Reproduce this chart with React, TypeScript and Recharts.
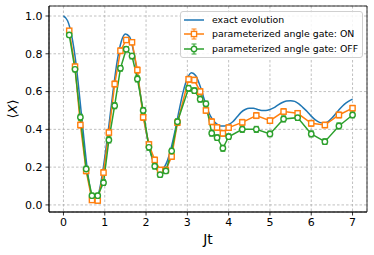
import React from 'react';
import { LineChart, Line, XAxis, YAxis, CartesianGrid, ErrorBar, ReferenceArea } from 'recharts';

const tExact = [0,0.1,0.2,0.3,0.4,0.5,0.6,0.7,0.8,0.9,1.0,1.1,1.2,1.3,1.4,1.5,1.6,1.7,1.8,1.9,2.0,2.1,2.2,2.3,2.4,2.5,2.6,2.7,2.8,2.9,3.0,3.1,3.2,3.3,3.4,3.5,3.6,3.7,3.8,3.9,4.0,4.1,4.2,4.3,4.4,4.5,4.6,4.7,4.8,4.9,5.0,5.1,5.2,5.3,5.4,5.5,5.6,5.7,5.8,5.9,6.0,6.1,6.2,6.3,6.4,6.5,6.6,6.7,6.8,6.9,7.0];
const exactVals = [1.0,0.975,0.895,0.755,0.555,0.34,0.15,0.04,0.03,0.11,0.25,0.42,0.6,0.76,0.865,0.905,0.89,0.81,0.68,0.53,0.39,0.285,0.215,0.185,0.19,0.225,0.295,0.39,0.5,0.6,0.67,0.7,0.685,0.635,0.565,0.5,0.455,0.43,0.418,0.418,0.425,0.44,0.465,0.49,0.505,0.512,0.512,0.505,0.5,0.5,0.505,0.515,0.53,0.542,0.55,0.552,0.548,0.535,0.515,0.495,0.47,0.45,0.437,0.433,0.44,0.46,0.485,0.51,0.532,0.548,0.56];

const tGate = [0.14,0.28,0.41,0.55,0.69,0.83,0.97,1.10,1.24,1.38,1.52,1.66,1.79,1.93,2.07,2.21,2.34,2.48,2.62,2.76,3.03,3.17,3.31,3.45,3.59,3.72,3.86,4.00,4.33,4.67,5.00,5.33,5.67,6.00,6.33,6.67,7.00];
const onVals = [0.922,0.732,0.423,0.18,0.026,0.023,0.171,0.383,0.64,0.816,0.873,0.861,0.714,0.464,0.32,0.238,0.185,0.185,0.256,0.436,0.665,0.661,0.6,0.5,0.44,0.41,0.379,0.409,0.437,0.473,0.446,0.494,0.485,0.432,0.423,0.476,0.512];
const onErr = [0.012,0.014,0.016,0.015,0.013,0.014,0.016,0.017,0.016,0.015,0.013,0.014,0.016,0.017,0.016,0.015,0.014,0.014,0.015,0.016,0.016,0.015,0.016,0.015,0.016,0.015,0.016,0.015,0.016,0.016,0.015,0.016,0.015,0.016,0.015,0.016,0.015];
const offVals = [0.9,0.718,0.464,0.19,0.049,0.049,0.118,0.344,0.525,0.723,0.824,0.788,0.667,0.5,0.305,0.205,0.16,0.18,0.285,0.44,0.617,0.605,0.56,0.535,0.38,0.356,0.3,0.361,0.4,0.4,0.376,0.455,0.462,0.376,0.335,0.418,0.476];
const offErr = [0.012,0.014,0.016,0.015,0.013,0.013,0.015,0.016,0.016,0.015,0.014,0.015,0.016,0.016,0.016,0.015,0.014,0.014,0.015,0.016,0.016,0.015,0.016,0.015,0.016,0.015,0.016,0.015,0.016,0.016,0.015,0.016,0.015,0.016,0.015,0.016,0.015];

const xTicks = [0,1,2,3,4,5,6,7];
const yTicks = [0,0.2,0.4,0.6,0.8,1.0];

const BLUE = '#1f77b4';
const ORANGE = '#ff7f0e';
const GREEN = '#2ca02c';
const FONT = '"DejaVu Sans", sans-serif';

const exactData = tExact.map((t, i) => ({ t, v: exactVals[i] }));
const onData = tGate.map((t, i) => ({ t, v: onVals[i], e: onErr[i] }));
const offData = tGate.map((t, i) => ({ t, v: offVals[i], e: offErr[i] }));

const SquareDot = (props: any) => {
  const { cx, cy, index } = props;
  if (cx == null || cy == null) return <g key={'s' + index} />;
  return <rect key={'s' + index} x={cx - 2.6} y={cy - 2.6} width={5.2} height={5.2} fill="#fff" stroke={ORANGE} strokeWidth={1.4} />;
};
const CircleDot = (props: any) => {
  const { cx, cy, index } = props;
  if (cx == null || cy == null) return <g key={'c' + index} />;
  return <circle key={'c' + index} cx={cx} cy={cy} r={2.7} fill="#fff" stroke={GREEN} strokeWidth={1.4} />;
};

const Handle = ({ color, marker }: { color: string; marker: 'none' | 'square' | 'circle' }) => (
  <svg width={22} height={12} style={{ display: 'block' }}>
    <line x1={1} y1={6} x2={21} y2={6} stroke={color} strokeWidth={1.5} />
    {marker !== 'none' && (
      <g>
        <line x1={11} y1={1} x2={11} y2={11} stroke={color} strokeWidth={1} />
        <line x1={8.5} y1={1} x2={13.5} y2={1} stroke={color} strokeWidth={1} />
        <line x1={8.5} y1={11} x2={13.5} y2={11} stroke={color} strokeWidth={1} />
      </g>
    )}
    {marker === 'square' && <rect x={8.4} y={3.4} width={5.2} height={5.2} fill="#fff" stroke={color} strokeWidth={1.4} />}
    {marker === 'circle' && <circle cx={11} cy={6} r={2.7} fill="#fff" stroke={color} strokeWidth={1.4} />}
  </svg>
);

const legendItems = [
  { label: 'exact evolution', color: BLUE, marker: 'none' as const },
  { label: 'parameterized angle gate: ON', color: ORANGE, marker: 'square' as const },
  { label: 'parameterized angle gate: OFF', color: GREEN, marker: 'circle' as const },
];

const LegendBox = () => (
  <div style={{ position: 'absolute', left: 180, top: 11, width: 183, border: '1px solid #d0d0d0', borderRadius: 3, background: 'rgba(255,255,255,0.85)', padding: '1px 3px 1px 2px', fontFamily: FONT, fontSize: 9.4, lineHeight: '14.3px', color: '#000', boxSizing: 'border-box' }}>
    {legendItems.map((it) => (
      <div key={it.label} style={{ display: 'flex', alignItems: 'center', height: 14.3, whiteSpace: 'nowrap' }}>
        <Handle color={it.color} marker={it.marker} />
        <span style={{ marginLeft: 7 }}>{it.label}</span>
      </div>
    ))}
  </div>
);

export default function App() {
  return (
    <div style={{ position: 'absolute', left: 0, top: 0, width: 374, height: 255, background: '#fff' }}>
      <LineChart width={374} height={255} margin={{ top: 6, right: 7, bottom: 0, left: 0 }}>
        <CartesianGrid stroke="#b0b0b0" strokeDasharray="2.5 2" strokeWidth={0.8} />
        <XAxis
          type="number"
          dataKey="t"
          domain={[-0.35, 7.35]}
          ticks={xTicks}
          allowDataOverflow
          height={43}
          tickSize={3.5}
          tickMargin={3}
          stroke="#000"
          strokeWidth={0.8}
          tick={{ fill: '#000', fontSize: 11, fontFamily: FONT }}
          label={{
            content: () => (
              <text x={208} y={244} textAnchor="middle" fontFamily={FONT} fontSize={14} fill="#000">Jt</text>
            ),
          }}
        />
        <YAxis
          type="number"
          domain={[-0.0375, 1.053]}
          ticks={yTicks}
          allowDataOverflow
          width={49}
          tickSize={3.5}
          tickMargin={3}
          stroke="#000"
          strokeWidth={0.8}
          tickFormatter={(v: number) => v.toFixed(1)}
          tick={{ fill: '#000', fontSize: 11, fontFamily: FONT }}
          label={{
            content: () => (
              <text x={0} y={0} transform="translate(17,109) rotate(-90)" textAnchor="middle" fontFamily={FONT} fontSize={13} fill="#000">
                ⟨<tspan fontStyle="italic">X</tspan>⟩
              </text>
            ),
          }}
        />
        <ReferenceArea x1={-0.35} x2={7.35} y1={-0.0375} y2={1.053} fill="none" stroke="#000" strokeWidth={0.8} ifOverflow="visible" />
        <Line data={exactData} dataKey="v" stroke={BLUE} strokeWidth={1.5} dot={false} type="monotone" isAnimationActive={false} />
        <Line data={onData} dataKey="v" stroke={ORANGE} strokeWidth={1.5} dot={SquareDot} type="linear" isAnimationActive={false}>
          <ErrorBar dataKey="e" direction="y" width={2.5} stroke={ORANGE} strokeWidth={1} isAnimationActive={false} />
        </Line>
        <Line data={offData} dataKey="v" stroke={GREEN} strokeWidth={1.5} dot={CircleDot} type="linear" isAnimationActive={false}>
          <ErrorBar dataKey="e" direction="y" width={2.5} stroke={GREEN} strokeWidth={1} isAnimationActive={false} />
        </Line>
      </LineChart>
      <LegendBox />
    </div>
  );
}
